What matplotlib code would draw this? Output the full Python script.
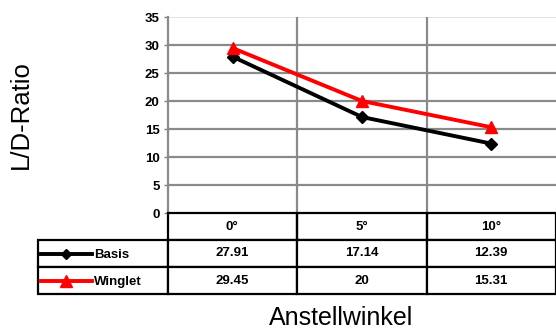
import matplotlib
matplotlib.use("Agg")
import matplotlib.pyplot as plt
from matplotlib.lines import Line2D

plt.rcParams['font.family'] = ['Liberation Sans', 'DejaVu Sans']

angles = ['0°', '5°', '10°']
series_names = ['Basis', 'Winglet']
basis = [27.91, 17.14, 12.39]
winglet = [29.45, 20, 15.31]
basis_txt = ['27.91', '17.14', '12.39']
winglet_txt = ['29.45', '20', '15.31']
y_ticks = [0, 5, 10, 15, 20, 25, 30, 35]

W, H = 556, 333
fig = plt.figure(figsize=(W / 100, H / 100), dpi=100)
ax = fig.add_axes([168 / W, 1 - 213 / H, 388 / W, 196 / H])

x = [i + 0.5 for i in range(len(angles))]
ax.plot(x, basis, color='black', lw=2.8, marker='D', ms=6.5, zorder=5, clip_on=False)
ax.plot(x, winglet, color='#ff0000', lw=2.8, marker='^', ms=9, zorder=6, clip_on=False)

ax.set_xlim(0, 3)
ax.set_ylim(0, 35)
ax.set_yticks(y_ticks)
ax.set_yticklabels([str(t) for t in y_ticks], fontsize=9.5, fontweight='bold')
ax.set_xticks([])
ax.tick_params(axis='y', length=3, color='#808080', width=1, pad=3)

for t in y_ticks[1:-1]:
    ax.axhline(t, color='#8a8a8a', lw=1.6, zorder=1)
ax.axhline(35, color='#dddddd', lw=1.2, zorder=1)
for v in [1, 2]:
    ax.axvline(v, color='#8a8a8a', lw=1.6, zorder=1)

for s in ['top', 'right']:
    ax.spines[s].set_visible(False)
ax.spines['left'].set_color('#8a8a8a')
ax.spines['left'].set_linewidth(1.6)
ax.spines['bottom'].set_color('black')
ax.spines['bottom'].set_linewidth(1.6)

# data table below the plot
aw, ah = 388, 196
left = (38 - 168) / aw
tb_h = 81 / ah
cells = [[''] + basis_txt, [''] + winglet_txt]
tbl = ax.table(cellText=cells, colLabels=[''] + angles, cellLoc='center',
               bbox=[left, -tb_h, 1 - left, tb_h])
tbl.auto_set_font_size(False)
for (r, c), cell in tbl.get_celld().items():
    cell.set_linewidth(1.6)
    cell.set_edgecolor('black')
    cell.get_text().set_fontsize(9.5)
    cell.get_text().set_fontweight('bold')
    if r == 0 and c == 0:
        cell.visible_edges = 'open'
    elif r == 0:
        cell.visible_edges = 'BRL'

# legend keys in the row label cells
for i, (name, col, mk, ms) in enumerate([('Basis', 'black', 'D', 5.5),
                                         ('Winglet', '#ff0000', '^', 8)]):
    yc = -(27 + 13.5 + i * 27) / ah
    ax.add_line(Line2D([(41 - 168) / aw, (92 - 168) / aw], [yc, yc], color=col,
                       lw=2.8, transform=ax.transAxes, clip_on=False))
    ax.add_line(Line2D([(66 - 168) / aw], [yc], color=col, marker=mk, ms=ms,
                       transform=ax.transAxes, clip_on=False))
    ax.text((94 - 168) / aw, yc - 1.5 / ah, name, transform=ax.transAxes,
            fontsize=9.5, fontweight='bold', ha='left', va='center')

fig.text(21 / W, 1 - 115 / H, 'L/D-Ratio', rotation=90, fontsize=18.5,
         ha='center', va='center')
fig.text(341 / W, 1 - 318 / H, 'Anstellwinkel', fontsize=18,
         ha='center', va='center')

fig.savefig('out.png', dpi=100)
